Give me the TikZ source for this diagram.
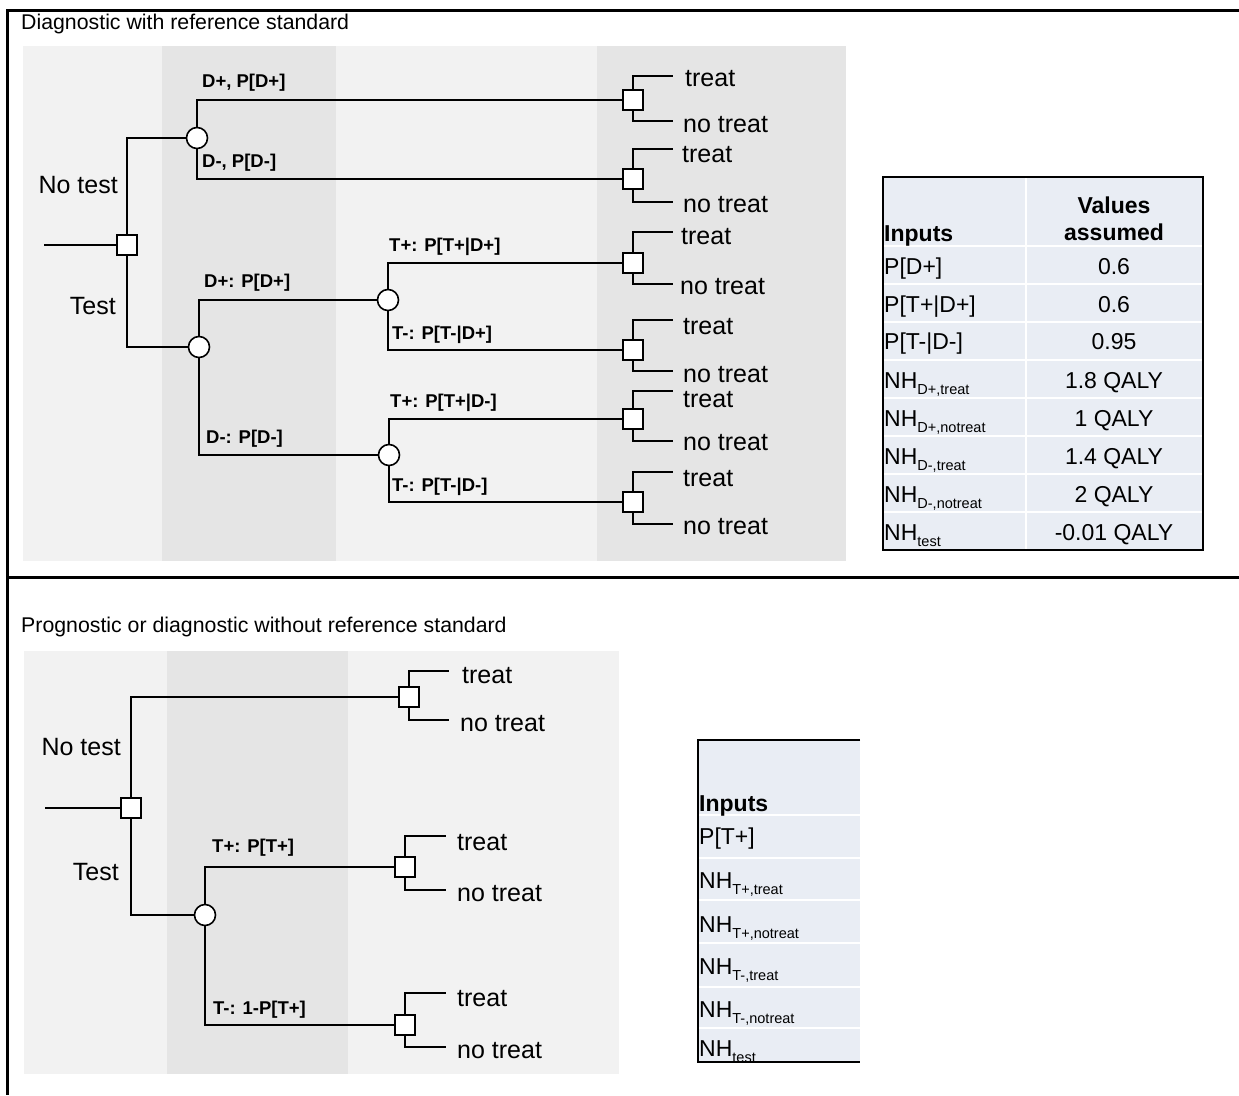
\documentclass[tikz,border=0pt]{standalone}
\usepackage{fontspec}
\setmainfont{Liberation Sans}
\usepackage{tikz}
\definecolor{panelgray}{rgb}{0.949, 0.949, 0.949}
\definecolor{bandgray}{rgb}{0.898, 0.898, 0.898}
\definecolor{tableblue}{rgb}{0.914, 0.929, 0.957}
\newcommand{\choicefont}{\fontsize{25}{30}\selectfont}
\newcommand{\probfont}{\fontsize{18.5}{22}\selectfont\bfseries}
\newcommand{\titlefont}{\fontsize{21.3}{25}\selectfont}
\newcommand{\cellfont}{\fontsize{23}{27}\selectfont}
\newcommand{\nhsub}[1]{\raisebox{-6pt}{\fontsize{14.5}{16}\selectfont #1}}
\tikzstyle{decision} = [
    rectangle,
    draw,
    fill=white,
    line width=1.6pt,
    minimum size=20pt,
    inner sep=0pt
]
\tikzstyle{chance} = [
    circle,
    draw,
    fill=white,
    line width=1.6pt,
    minimum size=21pt,
    inner sep=0pt
]
\tikzstyle{branch} = [line width=1.6pt]
\tikzstyle{choice} = [anchor=west, inner sep=0pt, font=\choicefont]
\tikzstyle{arm} = [anchor=east, inner sep=0pt, font=\choicefont]
\tikzstyle{prob} = [anchor=west, inner sep=0pt, font=\probfont]
\tikzstyle{heading} = [anchor=west, inner sep=0pt, font=\titlefont]
\tikzstyle{cell} = [anchor=base west, inner sep=0pt, font=\cellfont]
\tikzstyle{valcell} = [anchor=base, inner sep=0pt, font=\cellfont]
\tikzstyle{rowline} = [draw=white, line width=1.6pt]
\tikzstyle{boxline} = [line width=2pt]
\tikzstyle{outline} = [line width=3pt]

\begin{document}
\begin{tikzpicture}[x=1pt, y=-1pt]
    \useasboundingbox (0,0) rectangle (1239,1095);

    % Panels
    \fill[panelgray] (23,46) rectangle (846,561);
    \fill[bandgray] (162,46) rectangle (336,561);
    \fill[bandgray] (597,46) rectangle (846,561);
    \fill[panelgray] (24,651) rectangle (619,1074);
    \fill[bandgray] (167,651) rectangle (348,1074);

    % Frame
    \draw[outline] (1239,10) -- (7,10) -- (7,1095);
    \draw[outline] (7,577) -- (1239,577);

    % Titles
    \node[heading] (titleA) at (21,24) {Diagnostic with reference standard};
    \node[heading] (titleB) at (21,627) {Prognostic or diagnostic without reference standard};

    % Upper tree
    \coordinate (rootA) at (44,245);
    \node[decision] (dA) at (127,245) {};
    \node[chance] (cA1) at (197,138) {};
    \node[chance] (cA2) at (199,347) {};
    \node[chance] (cA3) at (388,300) {};
    \node[chance] (cA4) at (389,455) {};
    \node[decision] (sA1) at (633,100) {};
    \node[decision] (sA2) at (633,179) {};
    \node[decision] (sA3) at (633,263) {};
    \node[decision] (sA4) at (633,350) {};
    \node[decision] (sA5) at (633,419) {};
    \node[decision] (sA6) at (633,502) {};

    \node[arm] (notestA) at (118,185) {No test};
    \node[arm] (testA) at (116,306) {Test};
    \node[prob] (pdA1) at (202,83) {D+, P[D+]};
    \node[prob] (pdA2) at (202,163) {D-, P[D-]};
    \node[prob] (pdA3) at (204,283) {D+: P[D+]};
    \node[prob] (pdA4) at (206,439) {D-: P[D-]};
    \node[prob] (ptA1) at (389,247) {T+: P[T+|D+]};
    \node[prob] (ptA2) at (392,335) {T-: P[T-|D+]};
    \node[prob] (ptA3) at (390,403) {T+: P[T+|D-]};
    \node[prob] (ptA4) at (392,487) {T-: P[T-|D-]};

    \draw[branch] (rootA) -- (dA);
    \draw[branch] (dA) |- (cA1);
    \draw[branch] (dA) |- (cA2);
    \draw[branch] (cA1) |- (sA1);
    \draw[branch] (cA1) |- (sA2);
    \draw[branch] (cA2) |- (cA3);
    \draw[branch] (cA2) |- (cA4);
    \draw[branch] (cA3) |- (sA3);
    \draw[branch] (cA3) |- (sA4);
    \draw[branch] (cA4) |- (sA5);
    \draw[branch] (cA4) |- (sA6);

    % Treatment choices, upper tree
    \coordinate (eA1t) at (673,76);
    \coordinate (eA1n) at (673,121);
    \coordinate (eA2t) at (673,149);
    \coordinate (eA2n) at (673,202);
    \coordinate (eA3t) at (673,232);
    \coordinate (eA3n) at (673,284);
    \coordinate (eA4t) at (673,320);
    \coordinate (eA4n) at (673,371);
    \coordinate (eA5t) at (673,391);
    \coordinate (eA5n) at (673,441);
    \coordinate (eA6t) at (673,472);
    \coordinate (eA6n) at (673,524);
    \draw[branch] (sA1) |- (eA1t);
    \draw[branch] (sA1) |- (eA1n);
    \draw[branch] (sA2) |- (eA2t);
    \draw[branch] (sA2) |- (eA2n);
    \draw[branch] (sA3) |- (eA3t);
    \draw[branch] (sA3) |- (eA3n);
    \draw[branch] (sA4) |- (eA4t);
    \draw[branch] (sA4) |- (eA4n);
    \draw[branch] (sA5) |- (eA5t);
    \draw[branch] (sA5) |- (eA5n);
    \draw[branch] (sA6) |- (eA6t);
    \draw[branch] (sA6) |- (eA6n);
    \node[choice] (lA1t) at (685,79) {treat};
    \node[choice] (lA1n) at (683,125) {no treat};
    \node[choice] (lA2t) at (682,155) {treat};
    \node[choice] (lA2n) at (683,205) {no treat};
    \node[choice] (lA3t) at (681,237) {treat};
    \node[choice] (lA3n) at (680,287) {no treat};
    \node[choice] (lA4t) at (683,327) {treat};
    \node[choice] (lA4n) at (683,375) {no treat};
    \node[choice] (lA5t) at (683,400) {treat};
    \node[choice] (lA5n) at (683,443) {no treat};
    \node[choice] (lA6t) at (683,479) {treat};
    \node[choice] (lA6n) at (683,527) {no treat};

    % Upper table
    \fill[tableblue] (883,177) rectangle (1203,550);
    \draw[rowline] (883,246) -- (1203,246);
    \draw[rowline] (883,284) -- (1203,284);
    \draw[rowline] (883,322) -- (1203,322);
    \draw[rowline] (883,360) -- (1203,360);
    \draw[rowline] (883,398) -- (1203,398);
    \draw[rowline] (883,436) -- (1203,436);
    \draw[rowline] (883,474) -- (1203,474);
    \draw[rowline] (883,512) -- (1203,512);
    \draw[rowline] (1026,177) -- (1026,550);
    \draw[boxline] (883,177) rectangle (1203,550);
    \node[cell] (inA) at (884,241) {\bfseries Inputs};
    \node[valcell] (valA) at (1114,213) {\bfseries Values};
    \node[valcell] (asmA) at (1114,240) {\bfseries assumed};
    \node[cell] (kA1) at (884,274) {P[D+]};
    \node[cell] (kA2) at (884,312) {P[T+|D+]};
    \node[cell] (kA3) at (884,349) {P[T-|D-]};
    \node[cell] (kA4) at (884,388) {NH\nhsub{D+,treat}};
    \node[cell] (kA5) at (884,426) {NH\nhsub{D+,notreat}};
    \node[cell] (kA6) at (884,464) {NH\nhsub{D-,treat}};
    \node[cell] (kA7) at (884,502) {NH\nhsub{D-,notreat}};
    \node[cell] (kA8) at (884,540) {NH\nhsub{test}};
    \node[valcell] (vA1) at (1114,274) {0.6};
    \node[valcell] (vA2) at (1114,312) {0.6};
    \node[valcell] (vA3) at (1114,349) {0.95};
    \node[valcell] (vA4) at (1114,388) {1.8 QALY};
    \node[valcell] (vA5) at (1114,426) {1 QALY};
    \node[valcell] (vA6) at (1114,464) {1.4 QALY};
    \node[valcell] (vA7) at (1114,502) {2 QALY};
    \node[valcell] (vA8) at (1114,540) {-0.01 QALY};

    % Lower tree
    \coordinate (rootB) at (45,808);
    \node[decision] (dB) at (131,808) {};
    \node[chance] (cB1) at (205,915) {};
    \node[decision] (sB1) at (409,697) {};
    \node[decision] (sB2) at (405,867) {};
    \node[decision] (sB3) at (405,1025) {};

    \node[arm] (notestB) at (121,747) {No test};
    \node[arm] (testB) at (119,872) {Test};
    \node[prob] (ptB1) at (212,848) {T+: P[T+]};
    \node[prob] (ptB2) at (213,1010) {T-: 1-P[T+]};

    \draw[branch] (rootB) -- (dB);
    \draw[branch] (dB) |- (sB1);
    \draw[branch] (dB) |- (cB1);
    \draw[branch] (cB1) |- (sB2);
    \draw[branch] (cB1) |- (sB3);

    % Treatment choices, lower tree
    \coordinate (eB1t) at (449,671);
    \coordinate (eB1n) at (449,720);
    \coordinate (eB2t) at (446,836);
    \coordinate (eB2n) at (446,890);
    \coordinate (eB3t) at (446,993);
    \coordinate (eB3n) at (446,1047);
    \draw[branch] (sB1) |- (eB1t);
    \draw[branch] (sB1) |- (eB1n);
    \draw[branch] (sB2) |- (eB2t);
    \draw[branch] (sB2) |- (eB2n);
    \draw[branch] (sB3) |- (eB3t);
    \draw[branch] (sB3) |- (eB3n);
    \node[choice] (lB1t) at (462,676) {treat};
    \node[choice] (lB1n) at (460,724) {no treat};
    \node[choice] (lB2t) at (457,843) {treat};
    \node[choice] (lB2n) at (457,894) {no treat};
    \node[choice] (lB3t) at (457,999) {treat};
    \node[choice] (lB3n) at (457,1051) {no treat};

    % Lower table
    \fill[tableblue] (698,740) rectangle (860,1062);
    \draw[rowline] (698,815) -- (860,815);
    \draw[rowline] (698,858) -- (860,858);
    \draw[rowline] (698,900) -- (860,900);
    \draw[rowline] (698,943) -- (860,943);
    \draw[rowline] (698,987) -- (860,987);
    \draw[rowline] (698,1028) -- (860,1028);
    \draw[boxline] (860,740) -- (698,740) -- (698,1062) -- (860,1062);
    \node[cell] (inB) at (699,811) {\bfseries Inputs};
    \node[cell] (kB1) at (699,844) {P[T+]};
    \node[cell] (kB2) at (699,888) {NH\nhsub{T+,treat}};
    \node[cell] (kB3) at (699,932) {NH\nhsub{T+,notreat}};
    \node[cell] (kB4) at (699,974) {NH\nhsub{T-,treat}};
    \node[cell] (kB5) at (699,1017) {NH\nhsub{T-,notreat}};
    \node[cell] (kB6) at (699,1056) {NH\nhsub{test}};
\end{tikzpicture}
\end{document}
